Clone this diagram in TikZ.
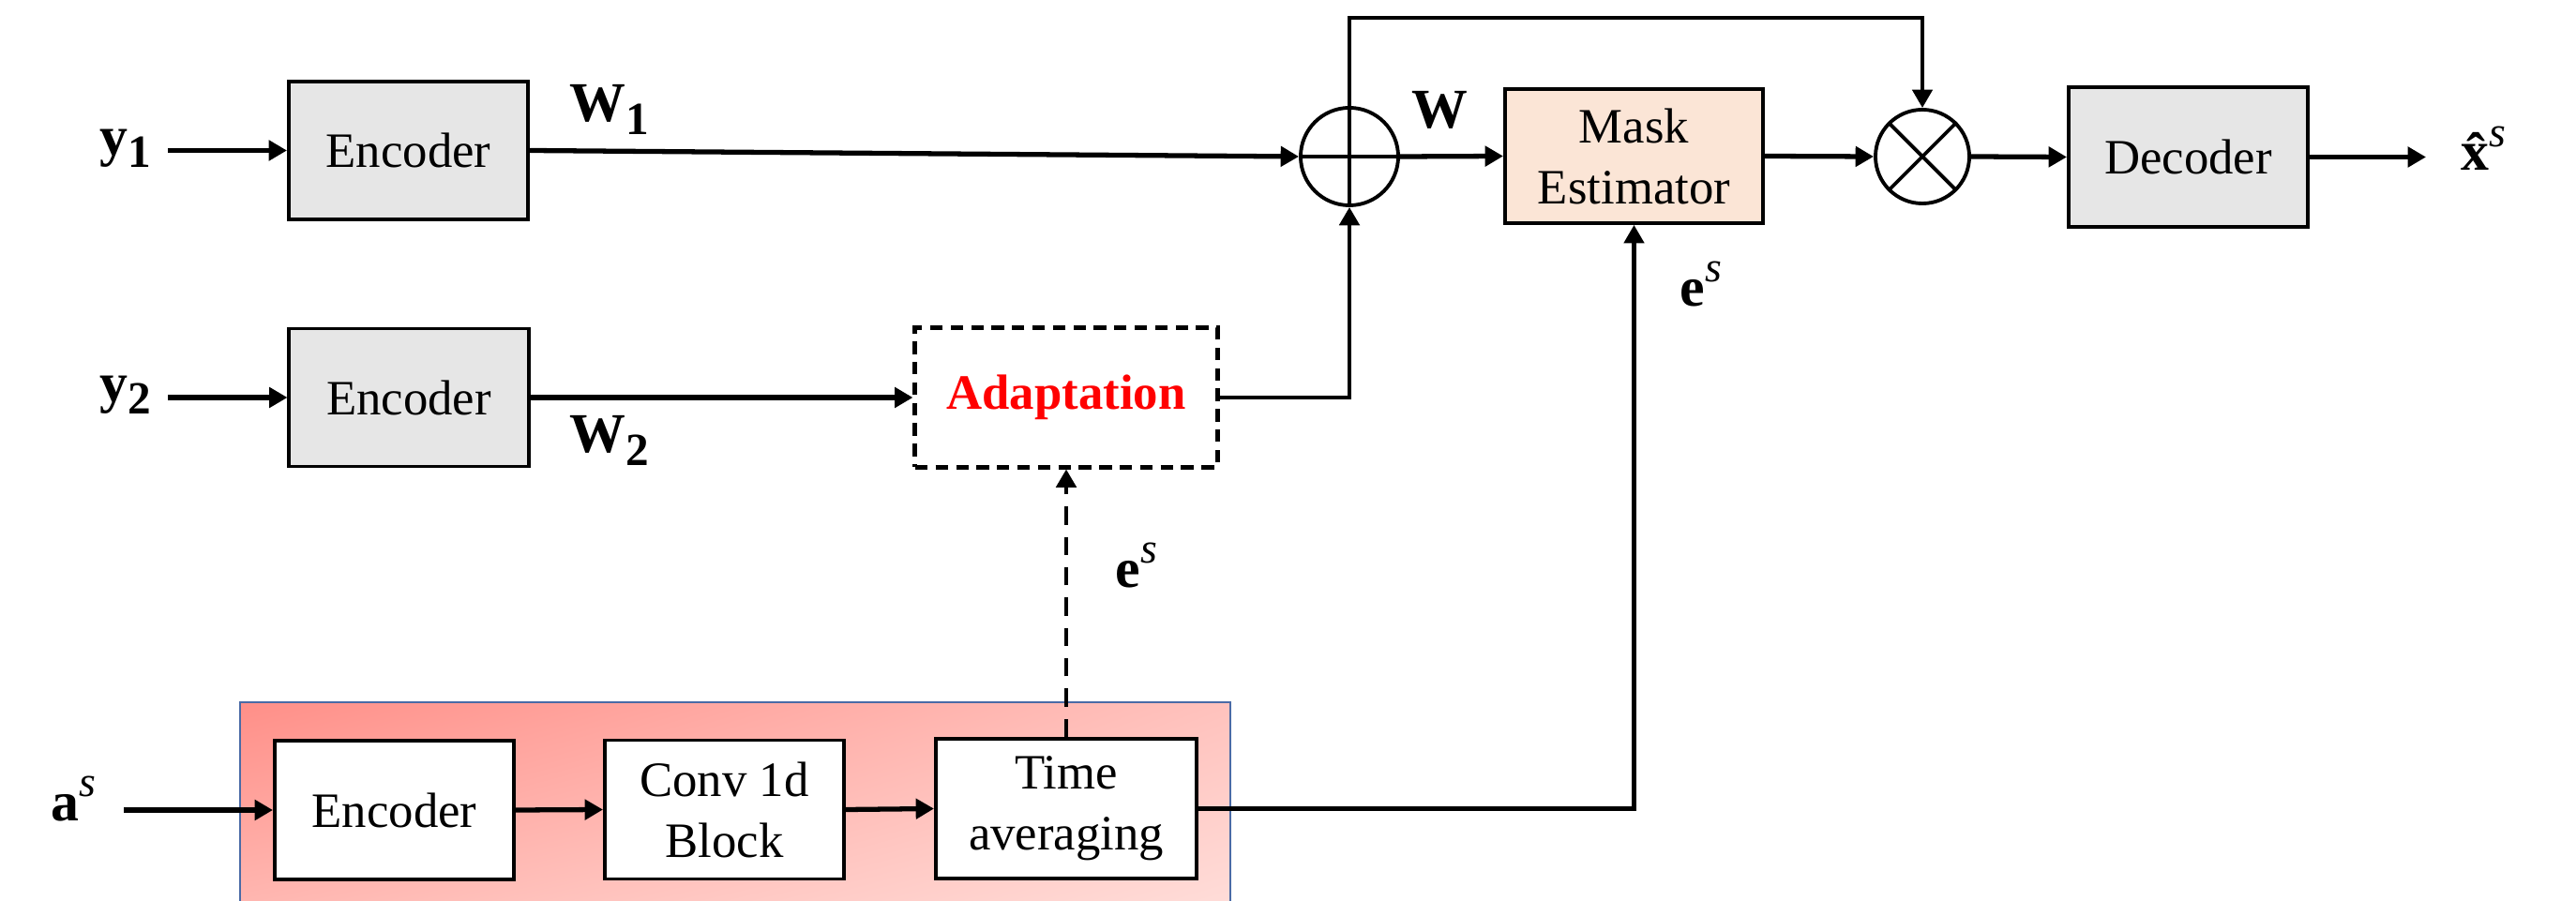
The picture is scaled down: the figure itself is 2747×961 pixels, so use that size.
\documentclass[tikz,border=0pt]{standalone}
\usepackage{fontspec}
\setmainfont{Liberation Serif}
\usetikzlibrary{arrows.meta,calc,shadings}
\definecolor{encgray}{HTML}{E6E6E6}
\definecolor{maskfill}{HTML}{FBE5D6}
\definecolor{shadeA}{HTML}{FF8F88}
\definecolor{shadeB}{HTML}{FFC2BD}
\definecolor{shadeC}{HTML}{FFB6B0}
\definecolor{shadeD}{HTML}{FFDCD8}
\definecolor{frameblue}{HTML}{4A6BA6}
\newcommand\lsub[1]{\raisebox{-0.22em}{\fontsize{14}{14}\selectfont #1}}
\newcommand\lsup[1]{\raisebox{0.42em}{\fontsize{13}{13}\selectfont\mdseries\itshape #1}}
\begin{document}
\begin{tikzpicture}[x=0.01cm,y=-0.01cm,
  blk/.style={draw,line width=1.1pt,minimum width=2.55cm,minimum height=1.47cm,inner sep=0pt,align=center,font=\fontsize{15}{18.5}\selectfont},
  conn/.style={line width=1.5pt,-{Triangle[length=5.5pt,width=6pt]}},
  lab/.style={inner sep=0pt,font=\fontsize{17}{20}\selectfont\bfseries},
  sumnode/.style={circle,draw,line width=1.1pt,minimum size=1.04cm,inner sep=0pt}]
\useasboundingbox (0,0) rectangle (2747,961);

% shaded speaker-embedding panel
\shade[upper left=shadeA,upper right=shadeB,lower left=shadeC,lower right=shadeD] (256,749) rectangle (1312,961);
\draw[frameblue,line width=0.8pt] (256,961) -- (256,749) -- (1312,749) -- (1312,961);

% blocks
\node[blk,fill=encgray] (enc1) at (435.5,160.5) {Encoder};
\node[blk,fill=encgray] (enc2) at (436,424) {Encoder};
\node[blk,dash pattern=on 3.8pt off 2.4pt,line width=1.4pt,minimum width=3.22cm,minimum height=1.48cm,font=\fontsize{15}{18.5}\selectfont\bfseries,text=red] (adapt) at (1137,424) {Adaptation};
\node[sumnode] (plus) at (1439,167) {};
\node[blk,fill=maskfill,minimum width=2.75cm,minimum height=1.43cm] (mask) at (1742.5,166.5) {Mask\\Estimator};
\node[sumnode,minimum size=1.0cm] (mult) at (2050,167) {};
\node[blk,fill=encgray,minimum height=1.49cm] (dec) at (2333.5,167.5) {Decoder};
\node[blk,fill=white,minimum height=1.48cm] (enc3) at (420.5,864) {Encoder};
\node[blk,fill=white,minimum height=1.48cm] (conv) at (772.5,863.5) {Conv 1d\\Block};
\node[blk,fill=white,minimum width=2.78cm,minimum height=1.49cm] (tavg) at (1137,862.5) {Time\\averaging};

% circle symbols
\draw[line width=1.1pt] (plus.north) -- (plus.south) (plus.west) -- (plus.east);
\draw[line width=1.1pt] (mult.north east) -- (mult.south west) (mult.north west) -- (mult.south east);

% labels
\node[lab] (ly1) at (134,158) {y\lsub{1}};
\node[lab] (ly2) at (134,421) {y\lsub{2}};
\node[lab] (lw1) at (650,117) {W\lsub{1}};
\node[lab] (lw2) at (650,470) {W\lsub{2}};
\node[lab] (lw) at (1535,117) {W};
\node[lab] (lx) at (2648,158) {\^{x}\lsup{s}};
\node[lab] (les1) at (1814,303) {e\lsup{s}};
\node[lab] (les2) at (1212,603) {e\lsup{s}};
\node[lab] (las) at (78,852) {a\lsup{s}};

% free ends
\coordinate (y1s) at (179,160.5);
\coordinate (y2s) at (179,424);
\coordinate (as) at (132,864);
\coordinate (outc) at (2587,167.5);
\coordinate (fb) at (1439,19);

% connectors
\draw[conn] (y1s) -- (enc1.west);
\draw[conn] (y2s) -- (enc2.west);
\draw[conn] (enc1.east) -- (plus.west);
\draw[conn] (enc2.east) -- (adapt.west);
\draw[conn,line width=1.3pt] (adapt.east) -| (plus.south);
\draw[conn] (plus.east) -- (mask.west);
\draw[conn] (mask.east) -- (mult.west);
\draw[conn] (mult.east) -- (dec.west);
\draw[conn] (dec.east) -- (outc);
\draw[conn,line width=1.2pt] (plus.north) -- (fb) -| (mult.north);
\draw[conn] (as) -- (enc3.west);
\draw[conn] (enc3.east) -- (conv.west);
\draw[conn] (conv.east) -- (tavg.west);
\draw[conn,line width=1.2pt] (tavg.east) -| (mask.south);
\draw[conn,line width=1.3pt,dash pattern=on 5.5pt off 3.7pt] (tavg.north) -- (adapt.south);
\end{tikzpicture}
\end{document}
